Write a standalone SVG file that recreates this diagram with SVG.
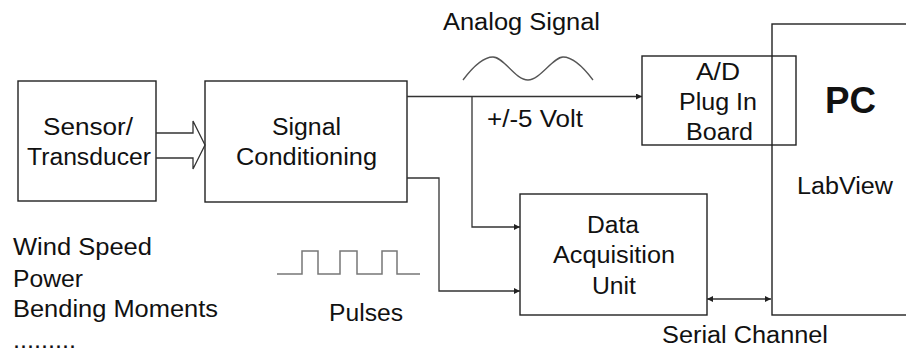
<svg xmlns="http://www.w3.org/2000/svg" width="906" height="351" viewBox="0 0 906 351">
<style>
.box{fill:#fff;stroke:#222;stroke-width:1.4}
.ln{fill:none;stroke:#333;stroke-width:1.3}
.wave{fill:none;stroke:#555;stroke-width:1.3}
.pulse{fill:none;stroke:#777;stroke-width:1.5}
text{font-family:"Liberation Sans",Arial,sans-serif;font-size:23.5px;fill:#111}
.b{font-weight:bold;font-size:37px}
</style>
<defs>
<marker id="ah" viewBox="0 0 10 10" refX="10" refY="5" markerWidth="6" markerHeight="6" markerUnits="userSpaceOnUse" orient="auto-start-reverse">
<path d="M0,0 L10,5 L0,10 Z" fill="#222"/>
</marker>
</defs>
<rect width="906" height="351" fill="#fff"/>
<g id="pc">
<rect class="box" x="772" y="24" width="150" height="291"/>
<text class="b" x="825" y="113" textLength="51" lengthAdjust="spacingAndGlyphs">PC</text>
<text x="797" y="194" textLength="96" lengthAdjust="spacingAndGlyphs">LabView</text>
</g>
<g id="sensor">
<rect class="box" x="18" y="81" width="138" height="120"/>
<text x="43" y="135" textLength="90" lengthAdjust="spacingAndGlyphs">Sensor/</text>
<text x="27" y="165" textLength="124" lengthAdjust="spacingAndGlyphs">Transducer</text>
</g>
<g id="signal-conditioning">
<rect class="box" x="205" y="81" width="202" height="121"/>
<text x="272" y="135" textLength="69" lengthAdjust="spacingAndGlyphs">Signal</text>
<text x="236" y="165" textLength="141" lengthAdjust="spacingAndGlyphs">Conditioning</text>
</g>
<g id="ad-board">
<rect class="box" x="642" y="56" width="154" height="89" fill="none" style="fill:none"/>
<text x="696" y="80" textLength="44" lengthAdjust="spacingAndGlyphs">A/D</text>
<text x="679" y="110" textLength="78" lengthAdjust="spacingAndGlyphs">Plug In</text>
<text x="686" y="140" textLength="67" lengthAdjust="spacingAndGlyphs">Board</text>
</g>
<g id="daq">
<rect class="box" x="520" y="194" width="187" height="121"/>
<text x="587" y="233" textLength="52" lengthAdjust="spacingAndGlyphs">Data</text>
<text x="553" y="263" textLength="122" lengthAdjust="spacingAndGlyphs">Acquisition</text>
<text x="592" y="294" textLength="44" lengthAdjust="spacingAndGlyphs">Unit</text>
</g>
<g id="connectors">
<path class="ln" d="M156,133 H193 V121 L205,145 L193,169 V158 H156"/>
<path class="ln" d="M407,96.5 H642" marker-end="url(#ah)"/>
<path class="ln" d="M472,96.5 V227 H520" marker-end="url(#ah)"/>
<path class="ln" d="M407,178 H439 V291 H520" marker-end="url(#ah)"/>
<path class="ln" d="M707,299 H771" marker-start="url(#ah)" marker-end="url(#ah)"/>
</g>
<g id="labels">
<path class="wave" d="M463,80 C475,64 485,57 493,57 C504,57 515,80 528,80 C540,80 553,57 563,57 C573,57 584,68 593,80"/>
<text x="443" y="30" textLength="157" lengthAdjust="spacingAndGlyphs">Analog Signal</text>
<text x="487" y="127" textLength="96" lengthAdjust="spacingAndGlyphs">+/-5 Volt</text>
<path class="pulse" d="M277,274 H302 V251 H318 V274 H340 V251 H357 V274 H382 V251 H397 V274 H420"/>
<text x="329" y="321" textLength="74" lengthAdjust="spacingAndGlyphs">Pulses</text>
<text x="662" y="343" textLength="166" lengthAdjust="spacingAndGlyphs">Serial Channel</text>
<text x="13" y="255" textLength="139" lengthAdjust="spacingAndGlyphs">Wind Speed</text>
<text x="13" y="287" textLength="70" lengthAdjust="spacingAndGlyphs">Power</text>
<text x="13" y="317" textLength="205" lengthAdjust="spacingAndGlyphs">Bending Moments</text>
<text x="13" y="348" textLength="63" lengthAdjust="spacingAndGlyphs">.........</text>
</g>
</svg>
